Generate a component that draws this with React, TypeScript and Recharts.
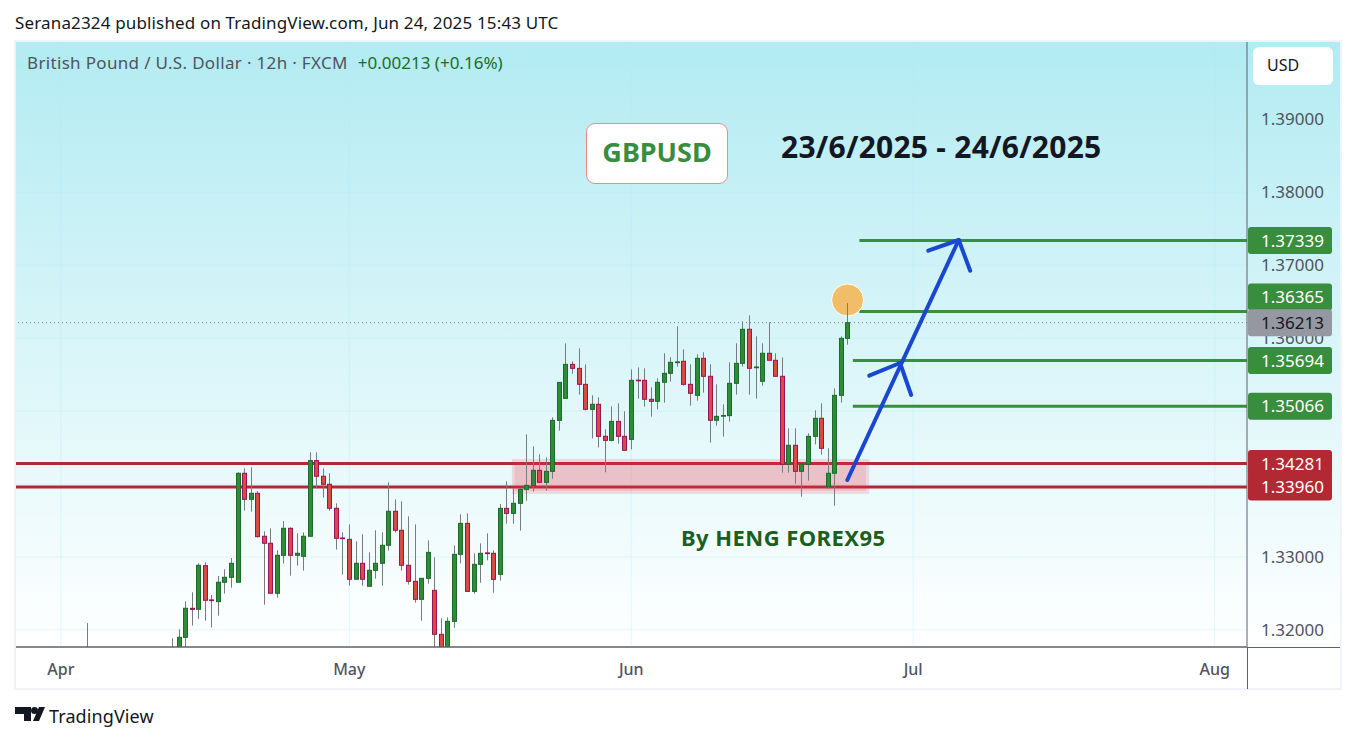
import { CSSProperties } from "react";
import {
  Bar,
  CartesianGrid,
  ComposedChart,
  ReferenceArea,
  ReferenceDot,
  ReferenceLine,
  XAxis,
  YAxis,
} from "recharts";

const opens = [1.3168, 1.317, 1.317, 1.31897, 1.32295, 1.32281, 1.3288, 1.3241, 1.32386, 1.32652, 1.3272, 1.32652, 1.34147, 1.3379, 1.33872, 1.33283, 1.33187, 1.32501, 1.33022, 1.33392, 1.33022, 1.33008, 1.33283, 1.34321, 1.34106, 1.33996, 1.33667, 1.3326, 1.33241, 1.32693, 1.32912, 1.32597, 1.32816, 1.32912, 1.33159, 1.33626, 1.33365, 1.32885, 1.32665, 1.32418, 1.32706, 1.32541, 1.31938, 1.3172, 1.32116, 1.33035, 1.3346, 1.32527, 1.32898, 1.33055, 1.33049, 1.32761, 1.33666, 1.33597, 1.33735, 1.33927, 1.33981, 1.34187, 1.34023, 1.34173, 1.34873, 1.35175, 1.35641, 1.35586, 1.35367, 1.35024, 1.35093, 1.34654, 1.34599, 1.34859, 1.34654, 1.34612, 1.35425, 1.35422, 1.35162, 1.35134, 1.35395, 1.35518, 1.35665, 1.35683, 1.35367, 1.35216, 1.35724, 1.35477, 1.34874, 1.3493, 1.34938, 1.35381, 1.35655, 1.36122, 1.35595, 1.35409, 1.35793, 1.35697, 1.35477, 1.3427, 1.34531, 1.34174, 1.3427, 1.34654, 1.34901, 1.33968, 1.34147, 1.35216, 1.35998];
const highs = [1.32093, 1.31883, 1.32007, 1.32391, 1.32514, 1.32912, 1.32926, 1.32478, 1.32738, 1.3283, 1.32985, 1.3416, 1.34215, 1.34229, 1.33904, 1.33351, 1.33392, 1.33091, 1.33493, 1.33406, 1.33324, 1.33337, 1.34435, 1.34435, 1.34215, 1.34147, 1.33735, 1.33337, 1.33447, 1.33214, 1.3331, 1.33063, 1.33365, 1.33337, 1.34023, 1.3379, 1.33763, 1.33557, 1.33446, 1.32706, 1.33227, 1.32994, 1.32157, 1.32171, 1.33158, 1.33584, 1.33597, 1.33049, 1.33186, 1.33323, 1.3309, 1.33725, 1.34036, 1.3394, 1.3394, 1.34681, 1.34516, 1.34407, 1.34365, 1.34914, 1.35394, 1.35929, 1.35682, 1.35861, 1.35641, 1.35216, 1.35189, 1.3475, 1.35065, 1.35106, 1.34997, 1.35573, 1.356, 1.35587, 1.35326, 1.3545, 1.35793, 1.35738, 1.36163, 1.35847, 1.35642, 1.35779, 1.35806, 1.35642, 1.35367, 1.35093, 1.35669, 1.3593, 1.36232, 1.36314, 1.36026, 1.3593, 1.36218, 1.35793, 1.35738, 1.34764, 1.34764, 1.3427, 1.34695, 1.35011, 1.35107, 1.34489, 1.35312, 1.36026, 1.36483];
const lows = [1.3165, 1.3165, 1.3165, 1.3174, 1.32057, 1.32149, 1.32126, 1.3203, 1.32194, 1.32496, 1.32578, 1.32652, 1.33635, 1.33621, 1.33264, 1.32345, 1.32501, 1.32441, 1.32908, 1.32743, 1.3288, 1.32812, 1.33283, 1.33941, 1.33813, 1.33635, 1.331, 1.32757, 1.32606, 1.32693, 1.32606, 1.32597, 1.32702, 1.32606, 1.33086, 1.33333, 1.32812, 1.3262, 1.32372, 1.32125, 1.32633, 1.317, 1.3165, 1.3168, 1.32029, 1.32911, 1.32527, 1.32495, 1.32646, 1.32953, 1.32509, 1.32674, 1.33456, 1.33456, 1.3336, 1.33771, 1.33895, 1.34023, 1.33908, 1.34073, 1.34731, 1.35175, 1.35513, 1.35225, 1.3501, 1.34626, 1.34503, 1.3416, 1.34585, 1.34553, 1.34462, 1.34475, 1.3517, 1.35061, 1.34924, 1.35024, 1.35116, 1.35404, 1.3561, 1.35349, 1.35075, 1.35143, 1.35253, 1.34567, 1.348, 1.34649, 1.34855, 1.35226, 1.3561, 1.35226, 1.35171, 1.35349, 1.35697, 1.35477, 1.34156, 1.34156, 1.34005, 1.33826, 1.34046, 1.34544, 1.34403, 1.33936, 1.33703, 1.35116, 1.35911];
const closes = [1.317, 1.3172, 1.31897, 1.32295, 1.3228, 1.32885, 1.32405, 1.324, 1.32652, 1.3272, 1.32912, 1.34147, 1.3379, 1.33872, 1.33278, 1.33187, 1.32501, 1.33022, 1.33392, 1.33022, 1.33049, 1.33283, 1.34321, 1.34106, 1.33996, 1.33667, 1.33255, 1.3325, 1.32693, 1.32912, 1.32693, 1.32816, 1.32912, 1.33159, 1.33626, 1.33365, 1.32885, 1.32665, 1.32418, 1.32706, 1.33062, 1.31938, 1.317, 1.32116, 1.33035, 1.3346, 1.32527, 1.32898, 1.33049, 1.33045, 1.32692, 1.33666, 1.33597, 1.33735, 1.33927, 1.33981, 1.34187, 1.34023, 1.34173, 1.34873, 1.35394, 1.35641, 1.35586, 1.35367, 1.35024, 1.35093, 1.34654, 1.34599, 1.34859, 1.34654, 1.34462, 1.35422, 1.35415, 1.35162, 1.35134, 1.35395, 1.35518, 1.35669, 1.35675, 1.35367, 1.35244, 1.35724, 1.35477, 1.34874, 1.34928, 1.3494, 1.35381, 1.35655, 1.36122, 1.35587, 1.35605, 1.35793, 1.35697, 1.35477, 1.3427, 1.34531, 1.34174, 1.3427, 1.34654, 1.34901, 1.34489, 1.34147, 1.35216, 1.35998, 1.36213];

// the first bar stands apart, the ones between it and the rest are below the plot
const FIRST_BAR = -13;

const priceTicks = [1.32, 1.33, 1.36, 1.37, 1.38, 1.39];
const tagPrices = [1.37339, 1.36365, 1.36213, 1.35694, 1.35066, 1.34281, 1.3396];
const tagColors = ["#388e3c", "#388e3c", "#9598a1", "#388e3c", "#388e3c", "#b22833", "#b22833"];
const tagTextColors = ["#ffffff", "#ffffff", "#131722", "#ffffff", "#ffffff", "#ffffff", "#ffffff"];

const monthBars = [-17, 27, 70, 113, 159];
const monthLabels = ["Apr", "May", "Jun", "Jul", "Aug"];

const FONT = "'Noto Sans', sans-serif";
const LAST_PRICE = 1.36213;

const chartData = opens.map((open, i) => ({
  bar: i === 0 ? FIRST_BAR : i - 1,
  open,
  high: highs[i],
  low: lows[i],
  close: closes[i],
}));

function Candle(props: any) {
  const { x, y, width, height, payload } = props;
  const { open, close, high, low } = payload;
  const cx = Math.floor(x + width / 2) + 0.5;
  const perPrice = height / (high - low);
  const top = y + (high - Math.max(open, close)) * perPrice;
  const bodyH = Math.abs(open - close) * perPrice;
  const up = close >= open;
  return (
    <g>
      <line x1={cx} x2={cx} y1={y} y2={y + height} stroke="#787b80" strokeWidth={1} />
      <rect
        x={cx - 2}
        y={top}
        width={4}
        height={Math.max(bodyH, 0.5)}
        fill={up ? "#2e8b37" : "#d94a43"}
        stroke={up ? "#1b6b2a" : "#981458"}
        strokeWidth={1}
      />
    </g>
  );
}

function PriceTick(props: any) {
  const { x, y, payload } = props;
  const i = tagPrices.indexOf(payload.value);
  if (i === -1) {
    return (
      <text x={x + 71} y={y + 6} textAnchor="end" fontSize={17} fontFamily={FONT} fill="#50535e">
        {payload.value.toFixed(5)}
      </text>
    );
  }
  // the 1.36365 tag gets pushed up by the last price tag, like on TradingView
  const labelY = payload.value === 1.36365 ? y - 14.5 : y;
  return (
    <g>
      <rect x={x - 5} y={labelY - 13.5} width={84} height={27} rx={3} fill={tagColors[i]} />
      <text x={x + 71} y={labelY + 6} textAnchor="end" fontSize={17} fontFamily={FONT} fill={tagTextColors[i]}>
        {payload.value.toFixed(5)}
      </text>
    </g>
  );
}

const overlay = (style: CSSProperties): CSSProperties => ({
  position: "absolute",
  fontFamily: FONT,
  whiteSpace: "nowrap",
  ...style,
});

export default function App() {
  return (
    <div style={{ position: "absolute", left: 0, top: 0, width: 1355, height: 742, background: "#fff", overflow: "hidden" }}>
      <div style={overlay({ left: 15, top: 11, fontSize: 17, letterSpacing: 0.15, color: "#131722" })}>
        Serana2324 published on TradingView.com, Jun 24, 2025 15:43 UTC
      </div>

      <div
        style={{
          position: "absolute",
          left: 14,
          top: 40,
          width: 1328,
          height: 650,
          boxSizing: "border-box",
          border: "2px solid #f0f3fa",
        }}
      />
      <div
        style={{
          position: "absolute",
          left: 16,
          top: 42,
          width: 1324,
          height: 605,
          background: "linear-gradient(180deg, #b2ebf2 0%, #ffffff 100%)",
        }}
      />

      <div style={{ position: "absolute", left: 16, top: 42 }}>
        <ComposedChart
          width={1323}
          height={646}
          data={chartData}
          margin={{ top: 0, right: 0, bottom: 0, left: 0 }}
        >
          <CartesianGrid
            stroke="#b2ebf2"
            strokeOpacity={0.35}
            horizontalValues={priceTicks.concat([1.34, 1.35])}
            verticalValues={monthBars}
          />
          <XAxis
            dataKey="bar"
            type="number"
            domain={[-23.84, 163.92]}
            ticks={monthBars}
            interval={0}
            tickFormatter={(v: number) => monthLabels[monthBars.indexOf(v)]}
            tick={{ fontSize: 16, fontWeight: 500, fontFamily: FONT, fill: "#50535e" }}
            tickLine={false}
            tickMargin={11}
            height={41}
            axisLine={{ stroke: "#5d606b", strokeWidth: 1.5 }}
            allowDataOverflow
          />
          <YAxis
            orientation="right"
            type="number"
            domain={[1.31764, 1.40063]}
            ticks={[...priceTicks, ...tagPrices]}
            interval={0}
            tick={PriceTick}
            tickLine={false}
            tickMargin={0}
            width={92}
            axisLine={{ stroke: "#5d606b", strokeWidth: 1 }}
            allowDataOverflow
          />

          <ReferenceLine y={LAST_PRICE} stroke="#787b86" strokeDasharray="1 3" zIndex={250} />
          <ReferenceLine y={1.34281} stroke="#b22833" strokeWidth={3} zIndex={250} />
          <ReferenceLine y={1.3396} stroke="#b22833" strokeWidth={3} zIndex={250} />
          <ReferenceLine segment={[{ x: 104.8, y: 1.37339 }, { x: 163.92, y: 1.37339 }]} stroke="#388e3c" strokeWidth={3} zIndex={250} />
          <ReferenceLine segment={[{ x: 104.8, y: 1.36365 }, { x: 163.92, y: 1.36365 }]} stroke="#388e3c" strokeWidth={3} zIndex={250} />
          <ReferenceLine segment={[{ x: 103.8, y: 1.35694 }, { x: 163.92, y: 1.35694 }]} stroke="#388e3c" strokeWidth={3} zIndex={250} />
          <ReferenceLine segment={[{ x: 103.8, y: 1.35066 }, { x: 163.92, y: 1.35066 }]} stroke="#388e3c" strokeWidth={3} zIndex={250} />

          <ReferenceArea x1={51.8} x2={106.3} y1={1.33863} y2={1.34343} fill="#f4304a" fillOpacity={0.16} stroke="none" zIndex={260} />
          <ReferenceArea x1={52.2} x2={105.8} y1={1.33904} y2={1.34302} fill="#f4304a" fillOpacity={0.14} stroke="none" zIndex={260} />
          <ReferenceDot x={103} y={1.36524} r={16} fill="#f2bd68" stroke="#ffffff" strokeWidth={1} zIndex={270} />

          <Bar
            dataKey={(d: any) => [d.low, d.high]}
            barSize={5}
            shape={Candle}
            isAnimationActive={false}
            zIndex={300}
          />

          <ReferenceLine segment={[{ x: 102.96, y: 1.34055 }, { x: 119.95, y: 1.37347 }]} stroke="#1a47d0" strokeWidth={4} strokeLinecap="round" zIndex={400} />
          <ReferenceLine segment={[{ x: 106.3, y: 1.35486 }, { x: 111, y: 1.3566 }]} stroke="#1a47d0" strokeWidth={4} strokeLinecap="round" zIndex={400} />
          <ReferenceLine segment={[{ x: 111, y: 1.3566 }, { x: 112.7, y: 1.35221 }]} stroke="#1a47d0" strokeWidth={4} strokeLinecap="round" zIndex={400} />
          <ReferenceLine segment={[{ x: 115.3, y: 1.372 }, { x: 119.95, y: 1.37347 }]} stroke="#1a47d0" strokeWidth={4} strokeLinecap="round" zIndex={400} />
          <ReferenceLine segment={[{ x: 119.95, y: 1.37347 }, { x: 121.7, y: 1.36926 }]} stroke="#1a47d0" strokeWidth={4} strokeLinecap="round" zIndex={400} />
        </ComposedChart>
      </div>

      <div style={{ position: "absolute", left: 1247, top: 647, width: 93, height: 1, background: "#5d606b" }} />
      <div style={{ position: "absolute", left: 1247, top: 647, width: 1, height: 42, background: "#5d606b" }} />

      <div style={overlay({ left: 27, top: 51, fontSize: 17, letterSpacing: 0.33, color: "#50535e" })}>
        British Pound / U.S. Dollar · 12h · FXCM
        <span style={{ color: "#1b6b2a", marginLeft: 10, letterSpacing: 0 }}>+0.00213 (+0.16%)</span>
      </div>

      <div
        style={overlay({
          left: 1253,
          top: 47,
          width: 80,
          height: 38,
          boxSizing: "border-box",
          paddingLeft: 14,
          lineHeight: "37px",
          background: "#fff",
          borderRadius: 6,
          fontSize: 16,
          color: "#131722",
        })}
      >
        USD
      </div>

      <div
        style={overlay({
          left: 586,
          top: 123,
          width: 142,
          height: 61,
          boxSizing: "border-box",
          border: "1px solid #ee8a8e",
          borderRadius: 9,
          background: "#fff",
          textAlign: "center",
          lineHeight: "56px",
          fontSize: 27,
          fontWeight: 700,
          color: "#388e3c",
        })}
      >
        GBPUSD
      </div>
      <div style={overlay({ left: 781, top: 126, fontSize: 30, letterSpacing: 0.25, fontWeight: 700, color: "#131722" })}>
        23/6/2025 - 24/6/2025
      </div>
      <div style={overlay({ left: 681, top: 522, fontSize: 22, letterSpacing: 0.45, fontWeight: 700, color: "#1b5e20" })}>
        By HENG FOREX95
      </div>

      <svg style={{ position: "absolute", left: 15, top: 707 }} width={30} height={15} viewBox="0 0 30 15">
        <path d="M0 0h16v14H9V7H0z M18 14 L24 0 h6 L24 14z" fill="#131722" />
        <circle cx={19.5} cy={3.5} r={3.5} fill="#131722" />
      </svg>
      <div style={overlay({ left: 49, top: 704, fontSize: 18, letterSpacing: 0.1, color: "#131722" })}>TradingView</div>
    </div>
  );
}
